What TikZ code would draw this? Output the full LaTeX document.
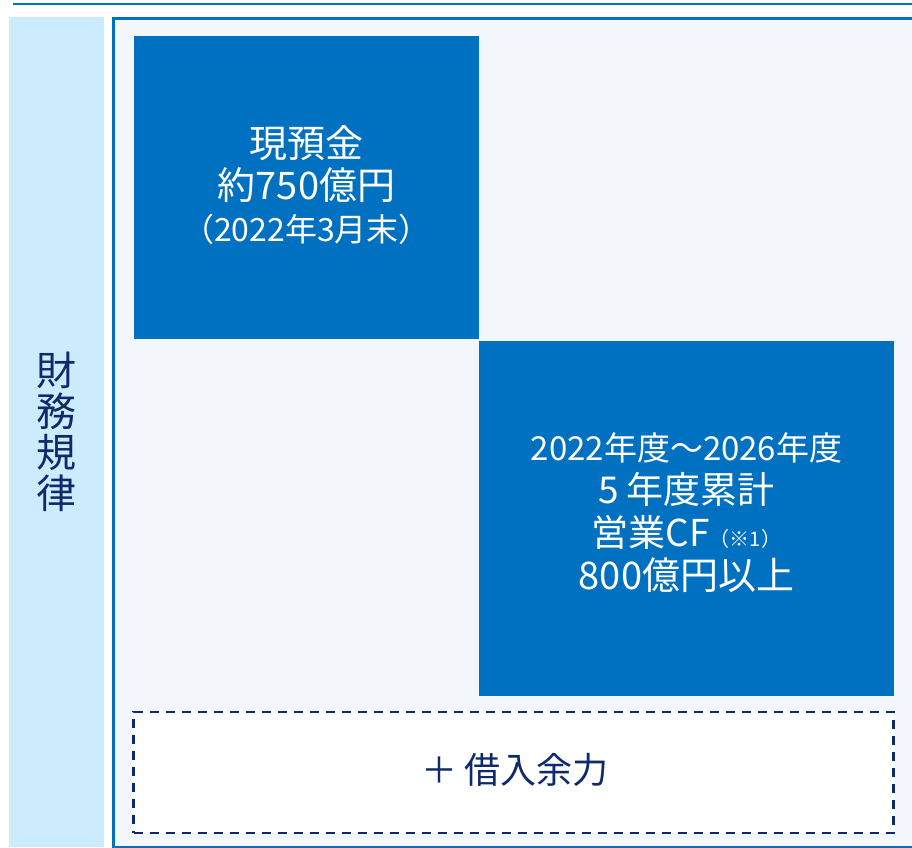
\documentclass[tikz,border=0pt]{standalone}
\usepackage{fontspec}
\setmainfont{Noto Sans CJK JP}
\definecolor{boxblue}{RGB}{0,112,192}
\definecolor{sidefill}{RGB}{204,235,253}
\definecolor{panelfill}{RGB}{243,247,252}
\definecolor{navy}{RGB}{14,42,106}
\tikzset{
  bluebox/.style={fill=boxblue, draw=none, inner sep=0pt, outer sep=0pt},
  whitetext/.style={text=white, align=center, inner sep=0pt},
  navytext/.style={text=navy, align=center, inner sep=0pt},
}
\begin{document}
\begin{tikzpicture}[x=1pt,y=-1pt]
\useasboundingbox (0,0) rectangle (912,847);
% top rule
\coordinate (rl) at (13,4);
\coordinate (rr) at (912,4);
\draw[boxblue, line width=2.4pt] (rl) -- (rr);
% side panel
\node[fill=sidefill, inner sep=0pt, minimum width=95pt, minimum height=830pt] (side) at (56.5,432) {};
\node[navytext, font=\fontsize{40}{41}\selectfont] (sidelabel) at (56.5,432) {財\\務\\規\\律};
% main panel
\node[fill=panelfill, draw=boxblue, line width=3pt, inner sep=0pt, minimum width=820pt, minimum height=829pt, anchor=north west] (panel) at (111.5,16.5) {};
% cash box
\node[bluebox, minimum width=345pt, minimum height=303pt, anchor=north west] (cash) at (134,36) {};
\node[whitetext, font=\fontsize{38}{42}\selectfont] (cashtext) at (306.5,185) {現預金\\約750億円\\{\fontsize{32}{42}\selectfont （2022年3月末）}};
% CF box
\node[bluebox, minimum width=415pt, minimum height=355pt, anchor=north west] (cf) at (479,341) {};
\node[whitetext, font=\fontsize{37}{43}\selectfont] (cftext) at (686.5,513) {{\fontsize{33}{43}\selectfont 2022年度～2026年度}\\5 年度累計\\営業CF{\fontsize{20}{43}\selectfont （※1）}\\{\fontsize{38}{43}\selectfont 800億円以上}};
% dashed box
\node[fill=white, draw=navy, line width=2.5pt, dash pattern=on 9pt off 7pt, inner sep=0pt, minimum width=760pt, minimum height=121pt] (debt) at (513.5,772.5) {};
\node[navytext, font=\fontsize{36}{40}\selectfont] (debttext) at (515,770) {＋\hspace{8pt}借入余力};
\end{tikzpicture}
\end{document}
